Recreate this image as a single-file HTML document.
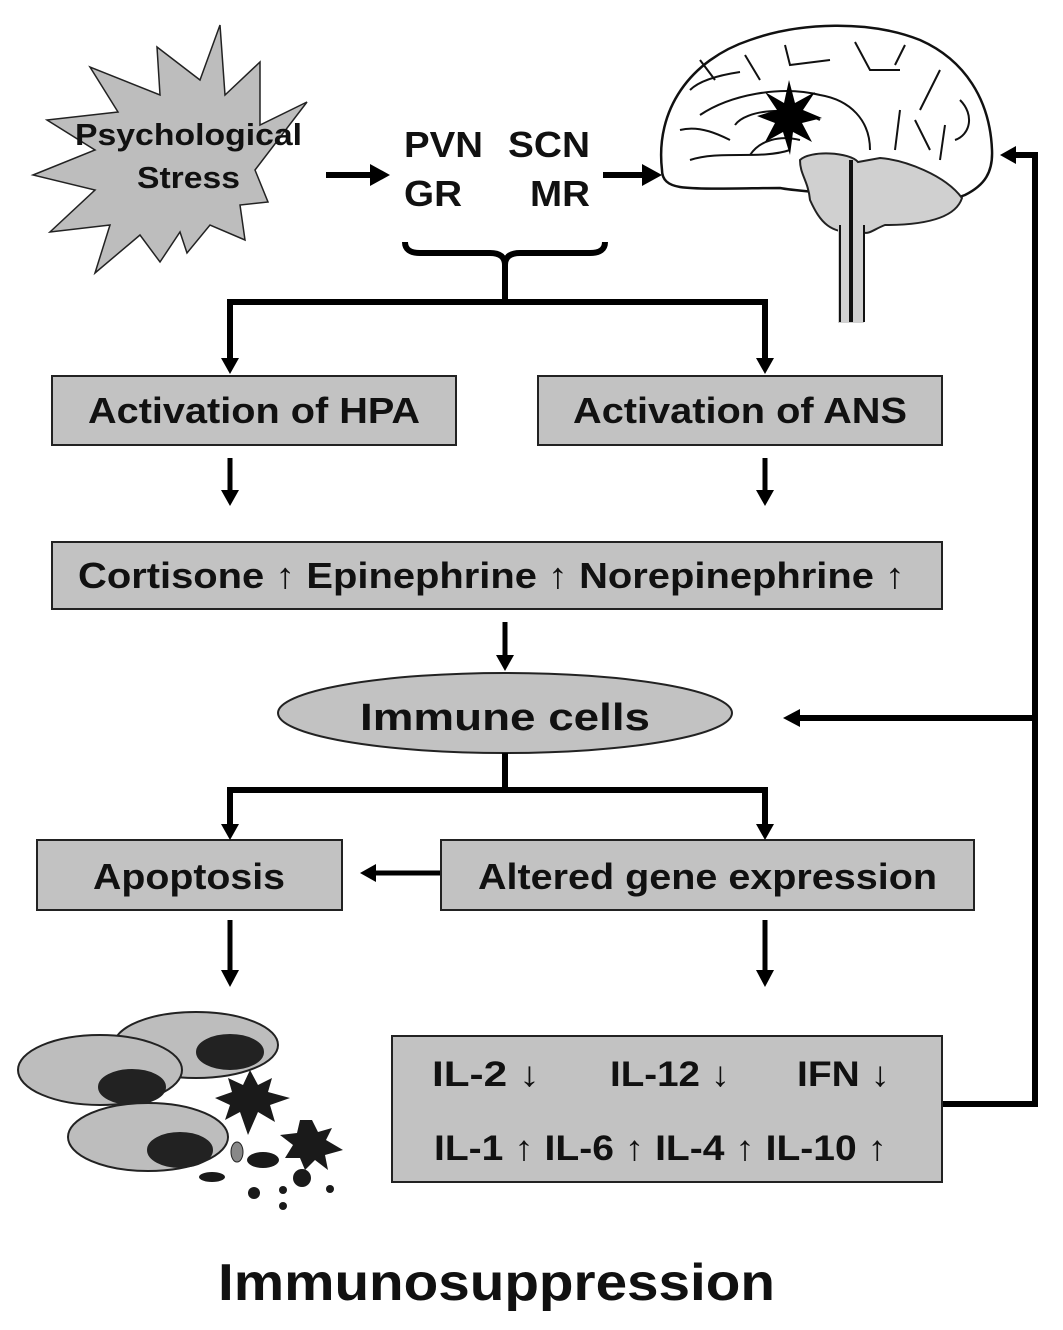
<!DOCTYPE html>
<html><head><meta charset="utf-8"><style>
html,body{margin:0;padding:0;background:#fff;}
svg{display:block;}
text{font-family:"Liberation Sans",Arial,sans-serif;font-weight:bold;fill:#111;}
</style></head><body>
<svg width="1063" height="1330" viewBox="0 0 1063 1330" xmlns="http://www.w3.org/2000/svg">
<!-- starburst -->
<polygon points="220,25 200,80 157,47 160,95 90,67 118,112 47,120 95,150 33,175 95,190 50,232 110,225 95,273 140,235 160,262 180,232 187,253 210,225 245,240 240,205 268,202 255,170 307,102 260,125 260,62 225,95" fill="#bdbdbd" stroke="#222" stroke-width="1.5"/>
<text x="75" y="145" font-size="31" textLength="227" lengthAdjust="spacingAndGlyphs">Psychological</text>
<text x="137" y="188" font-size="31" textLength="103" lengthAdjust="spacingAndGlyphs">Stress</text>
<line x1="326" y1="175" x2="372" y2="175" stroke="#000" stroke-width="6"/>
<path d="M390,175 L370,164 L370,186 z" fill="#000"/>
<text x="404" y="157" font-size="36" textLength="79" lengthAdjust="spacingAndGlyphs">PVN</text>
<text x="508" y="157" font-size="36" textLength="82" lengthAdjust="spacingAndGlyphs">SCN</text>
<text x="404" y="206" font-size="36" textLength="58" lengthAdjust="spacingAndGlyphs">GR</text>
<text x="530" y="206" font-size="36" textLength="60" lengthAdjust="spacingAndGlyphs">MR</text>
<line x1="603" y1="175" x2="645" y2="175" stroke="#000" stroke-width="6"/>
<path d="M662,175 L642,164 L642,186 z" fill="#000"/>
<!-- brace -->
<path d="M405,242 Q405,253 420,253 L490,253 Q505,253 505,265 Q505,253 520,253 L590,253 Q605,253 605,242" fill="none" stroke="#000" stroke-width="6"/>
<g stroke="#000" stroke-width="6" fill="none">
<line x1="505" y1="262" x2="505" y2="302"/>
<polyline points="230,362 230,302 765,302 765,362"/>
</g>
<g fill="#000"><path d="M221,358 L239,358 L230,374 z"/><path d="M756,358 L774,358 L765,374 z"/></g>
<!-- brain -->
<path d="M662,170 C655,110 690,60 750,40 C800,22 870,20 920,40 C965,60 990,100 992,150 C993,172 985,185 965,195 C940,205 900,205 870,200 C840,192 800,192 780,188 C750,188 700,190 680,187 C668,185 662,180 662,170 z" fill="#fff" stroke="#111" stroke-width="2.5"/>
<path d="M800,160 C810,150 850,152 858,162 L880,158 C905,160 945,175 962,198 C955,220 920,225 885,225 C872,230 870,235 860,232 C830,235 820,222 810,200 C808,180 800,175 800,160 z" fill="#d0d0d0" stroke="#222" stroke-width="2"/>
<rect x="838" y="225" width="26" height="98" fill="#d0d0d0"/>
<line x1="840" y1="225" x2="840" y2="322" stroke="#111" stroke-width="2"/>
<line x1="851" y1="160" x2="851" y2="322" stroke="#111" stroke-width="4"/>
<line x1="864" y1="225" x2="864" y2="322" stroke="#111" stroke-width="2"/>
<g stroke="#111" stroke-width="2" fill="none">
<path d="M690,90 C700,80 720,75 740,72 M700,60 L715,80 M745,55 L760,80 M785,45 L790,65 L830,60 M855,42 L870,70 L900,70 M905,45 L895,65 M940,70 L920,110 M960,100 C975,115 970,135 955,140"/>
<path d="M700,115 C730,95 780,85 820,95 C850,100 870,120 870,150"/>
<path d="M735,125 C745,110 790,105 820,120"/>
<path d="M690,160 C720,150 760,160 790,150"/>
<path d="M680,130 C700,125 720,135 730,140 M900,110 L895,150 M915,120 L930,150 M945,125 L940,160"/>
<path d="M750,155 C760,140 780,135 800,140"/>
</g>
<polygon points="789,80 795,103 815,92 803,110 822,118 802,123 812,142 793,132 790,155 783,132 765,142 775,123 757,116 777,110 765,92 784,103" fill="#000"/>
<!-- feedback line -->
<g stroke="#000" stroke-width="6" fill="none">
<polyline points="942,1104 1035,1104 1035,155 1012,155"/>
<line x1="1035" y1="718" x2="798" y2="718"/>
</g>
<g fill="#000"><path d="M1000,155 L1016,146 L1016,164 z"/><path d="M783,718 L800,709 L800,727 z"/></g>
<!-- boxes -->
<g fill="#c2c2c2" stroke="#222" stroke-width="2">
<rect x="52" y="376" width="404" height="69"/>
<rect x="538" y="376" width="404" height="69"/>
<rect x="52" y="542" width="890" height="67"/>
<ellipse cx="505" cy="713" rx="227" ry="40"/>
<rect x="37" y="840" width="305" height="70"/>
<rect x="441" y="840" width="533" height="70"/>
<rect x="392" y="1036" width="550" height="146"/>
</g>
<text x="88" y="423" font-size="36" textLength="332" lengthAdjust="spacingAndGlyphs">Activation of HPA</text>
<text x="573" y="423" font-size="36" textLength="334" lengthAdjust="spacingAndGlyphs">Activation of ANS</text>
<text x="78" y="588" font-size="36" textLength="827" lengthAdjust="spacingAndGlyphs">Cortisone ↑  Epinephrine ↑ Norepinephrine ↑</text>
<text x="360" y="730" font-size="38" textLength="290" lengthAdjust="spacingAndGlyphs">Immune cells</text>
<text x="93" y="889" font-size="36" textLength="192" lengthAdjust="spacingAndGlyphs">Apoptosis</text>
<text x="478" y="889" font-size="36" textLength="459" lengthAdjust="spacingAndGlyphs">Altered gene expression</text>
<text x="432" y="1086" font-size="35" textLength="108" lengthAdjust="spacingAndGlyphs">IL-2 ↓</text>
<text x="610" y="1086" font-size="35" textLength="120" lengthAdjust="spacingAndGlyphs">IL-12 ↓</text>
<text x="797" y="1086" font-size="35" textLength="93" lengthAdjust="spacingAndGlyphs">IFN ↓</text>
<text x="434" y="1160" font-size="35" textLength="453" lengthAdjust="spacingAndGlyphs">IL-1 ↑ IL-6 ↑ IL-4 ↑ IL-10 ↑</text>
<!-- arrows -->
<g stroke="#000" stroke-width="5">
<line x1="230" y1="458" x2="230" y2="495"/><line x1="765" y1="458" x2="765" y2="495"/>
<line x1="505" y1="622" x2="505" y2="660"/>
<line x1="440" y1="873" x2="372" y2="873"/>
<line x1="230" y1="920" x2="230" y2="975"/><line x1="765" y1="920" x2="765" y2="975"/>
</g>
<g stroke="#000" stroke-width="6" fill="none">
<line x1="505" y1="753" x2="505" y2="790"/>
<polyline points="230,828 230,790 765,790 765,828"/>
</g>
<g fill="#000">
<path d="M221,490 L239,490 L230,506 z"/><path d="M756,490 L774,490 L765,506 z"/>
<path d="M496,655 L514,655 L505,671 z"/>
<path d="M221,824 L239,824 L230,840 z"/><path d="M756,824 L774,824 L765,840 z"/>
<path d="M360,873 L376,864 L376,882 z"/>
<path d="M221,970 L239,970 L230,987 z"/><path d="M756,970 L774,970 L765,987 z"/>
</g>
<!-- cells -->
<g stroke="#222" stroke-width="2">
<ellipse cx="196" cy="1045" rx="82" ry="33" fill="#bdbdbd"/>
<ellipse cx="230" cy="1052" rx="33" ry="17" fill="#222"/>
<ellipse cx="100" cy="1070" rx="82" ry="35" fill="#bdbdbd"/>
<ellipse cx="132" cy="1087" rx="33" ry="17" fill="#222"/>
<ellipse cx="148" cy="1137" rx="80" ry="34" fill="#bdbdbd"/>
<ellipse cx="180" cy="1150" rx="32" ry="17" fill="#222"/>
</g>
<g fill="#1a1a1a">
<polygon points="250,1070 258,1085 272,1078 268,1092 290,1098 270,1105 275,1122 258,1112 248,1135 240,1112 225,1120 230,1105 215,1098 232,1092 228,1078 243,1085"/>
<polygon points="312,1120 318,1132 332,1128 326,1140 343,1150 325,1155 328,1170 315,1160 305,1170 300,1158 285,1158 293,1145 280,1135 297,1133 300,1120"/>
<ellipse cx="263" cy="1160" rx="16" ry="8"/>
<circle cx="302" cy="1178" r="9"/><circle cx="254" cy="1193" r="6"/><circle cx="283" cy="1190" r="4"/><circle cx="330" cy="1189" r="4"/><circle cx="283" cy="1206" r="4"/>
<ellipse cx="212" cy="1177" rx="13" ry="5"/>
<ellipse cx="237" cy="1152" rx="6" ry="10" fill="#888" stroke="#222"/>
</g>
<text x="218" y="1300" font-size="52" textLength="557" lengthAdjust="spacingAndGlyphs">Immunosuppression</text>
</svg>
</body></html>
